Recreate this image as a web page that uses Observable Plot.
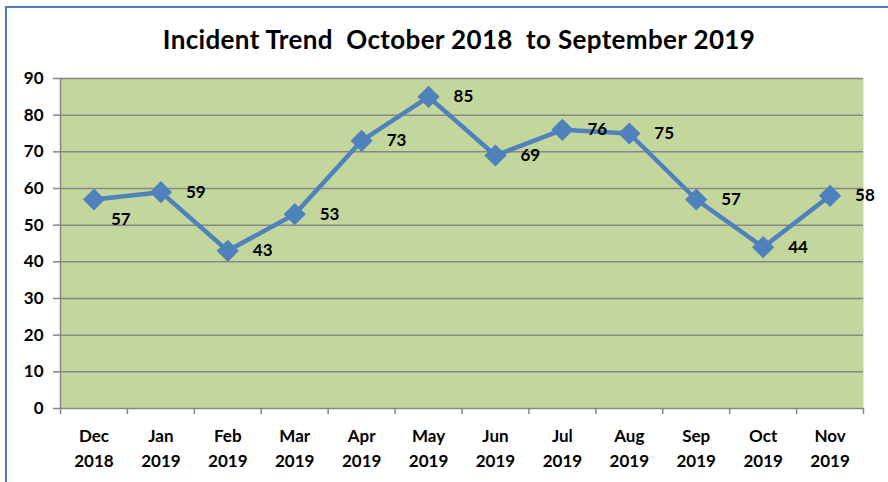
<!DOCTYPE html>
<html>
<head>
<meta charset="utf-8">
<script src="https://cdn.jsdelivr.net/npm/d3@7"></script>
<script src="https://cdn.jsdelivr.net/npm/@observablehq/plot@0.6"></script>
<style>
  html, body { margin: 0; padding: 0; background: #fff; }
  body { width: 888px; height: 482px; overflow: hidden; position: relative; font-family: Lato, "Open Sans", sans-serif; }
  #border { position: absolute; left: 5px; top: 6px; width: 1000px; height: 1000px; border: 2px solid #4a7ebb; box-sizing: border-box; pointer-events: none; }
  #title { height: 60px; box-sizing: border-box; padding-top: 23px; padding-left: 30px; text-align: center; font-weight: bold; font-size: 26px; letter-spacing: 0.35px; color: #000; white-space: pre; line-height: normal; }
  #chart { position: relative; }
</style>
</head>
<body>
<div id="border"></div>
<div id="title">Incident Trend  October 2018  to September 2019</div>
<div id="chart"></div>
<script>
const months = ["Dec\n2018", "Jan\n2019", "Feb\n2019", "Mar\n2019", "Apr\n2019", "May\n2019", "Jun\n2019", "Jul\n2019", "Aug\n2019", "Sep\n2019", "Oct\n2019", "Nov\n2019"];
const incidents = [57, 59, 43, 53, 73, 85, 69, 76, 75, 57, 44, 58];
const yTicks = [0, 10, 20, 30, 40, 50, 60, 70, 80, 90];

const data = months.map((m, i) => ({i, pos: i + 0.5, month: m, value: incidents[i]}));
const boundaries = d3.range(months.length + 1);
const centers = d3.range(months.length).map(i => i + 0.5);

const gray = "#878787";
const blue = "#4f81bd";

const chart = Plot.plot({
  width: 888,
  height: 422,
  marginTop: 18,
  marginBottom: 74,
  marginLeft: 60,
  marginRight: 25,
  style: {fontFamily: "Lato, 'Open Sans', sans-serif", fontWeight: "bold", fontSize: "17px", color: "#000", background: "transparent"},
  x: {type: "linear", domain: [0, months.length], label: null},
  y: {domain: [0, 90], label: null},
  marks: [
    Plot.frame({fill: "#c3d69b", stroke: null}),
    Plot.ruleY(yTicks.filter(d => d > 0), {stroke: gray, strokeWidth: 1.5}),
    Plot.ruleX([0], {stroke: gray, strokeWidth: 1.5}),
    Plot.ruleY([0], {stroke: gray, strokeWidth: 1.5}),
    Plot.axisY(yTicks, {tickSize: 7, tickPadding: 10, stroke: gray, strokeWidth: 1.5, fill: "#000", fontSize: 17, fontWeight: "bold", label: null}),
    Plot.axisX(boundaries, {tickSize: 6, tickFormat: () => "", stroke: gray, strokeWidth: 1.5, label: null}),
    Plot.axisX(centers, {tickSize: 0, tickPadding: 16, tickFormat: d => months[Math.floor(d)], lineHeight: 1.45, fill: "#000", fontSize: 17, fontWeight: "bold", label: null}),
    Plot.line(data, {x: "pos", y: "value", stroke: blue, strokeWidth: 4.5}),
    Plot.dot(data, {x: "pos", y: "value", symbol: "diamond2", r: 10, fill: blue, stroke: null}),
    Plot.text(data.filter(d => d.i !== 0), {x: "pos", y: "value", text: "value", textAnchor: "start", dx: 25, fontSize: 17, fontWeight: "bold", fill: "#000"}),
    Plot.text(data.filter(d => d.i === 0), {x: "pos", y: "value", text: "value", textAnchor: "start", dx: 17, dy: 20, fontSize: 17, fontWeight: "bold", fill: "#000"})
  ]
});
document.getElementById("chart").appendChild(chart);
</script>
</body>
</html>
